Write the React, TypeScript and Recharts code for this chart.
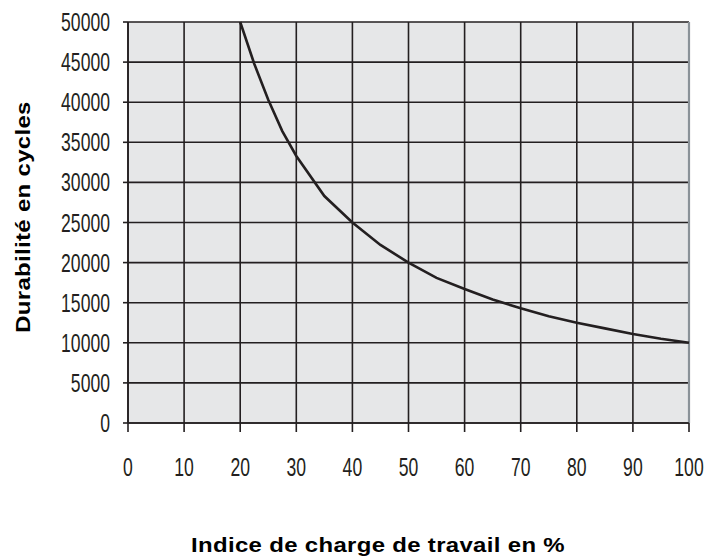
import React from "react";
import {
  CartesianGrid,
  Line,
  LineChart,
  ReferenceLine,
  XAxis,
  YAxis,
} from "recharts";

const loadIndex = [20, 22.5, 25, 27.5, 30, 35, 40, 45, 50, 55, 60, 65, 70, 75, 80, 85, 90, 95, 100];
const cycles = [
  50000, 44800, 40300, 36400, 33300, 28300, 25000, 22200, 20000, 18100, 16700,
  15400, 14300, 13300, 12500, 11800, 11100, 10500, 10000,
];
const xTicks = [0, 10, 20, 30, 40, 50, 60, 70, 80, 90, 100];
const yTicks = [0, 5000, 10000, 15000, 20000, 25000, 30000, 35000, 40000, 45000, 50000];

const xTitle = "Indice de charge de travail en %";
const yTitle = "Durabilité en cycles";

const data = loadIndex.map((x, i) => ({ x, y: cycles[i] }));

const ink = "#231f20";
const font = "'Liberation Sans', Arial, sans-serif";

// condensed look: squeeze a regular face
const XTick = ({ x, y, payload }: any) => (
  <text
    transform={`translate(${x},${y + 42}) scale(0.8,1.2)`}
    textAnchor="middle"
    fill={ink}
    fontSize={22}
    fontFamily={font}
  >
    {payload.value}
  </text>
);

const YTick = ({ x, y, payload }: any) => (
  <text
    transform={`translate(${x - 11},${y + 9}) scale(0.8,1.2)`}
    textAnchor="end"
    fill={ink}
    fontSize={22}
    fontFamily={font}
  >
    {payload.value}
  </text>
);

const titleStyle = {
  fill: "#000",
  fontSize: 21,
  fontWeight: "bold" as const,
  fontFamily: font,
  letterSpacing: 0.3,
};

// titles are a touch wider than Arial bold, so stretch them
const XTitle = () => (
  <text
    transform="translate(378,552) scale(1.14,1)"
    textAnchor="middle"
    {...titleStyle}
  >
    {xTitle}
  </text>
);

const YTitle = () => (
  <text
    transform="translate(30,217) rotate(-90) scale(1.14,1)"
    textAnchor="middle"
    {...titleStyle}
  >
    {yTitle}
  </text>
);

export default function App() {
  return (
    <div style={{ position: "absolute", left: 0, top: 0, width: 705, height: 559, background: "#fff" }}>
      <LineChart
        width={705}
        height={559}
        data={data}
        margin={{ top: 22, right: 16, bottom: 0, left: 0 }}
      >
        <CartesianGrid
          stroke={ink}
          strokeWidth={1.6}
          fill="#e6e7e8"
          fillOpacity={1}
        />
        <XAxis
          dataKey="x"
          type="number"
          domain={[0, 100]}
          ticks={xTicks}
          height={136}
          stroke={ink}
          strokeWidth={1.6}
          tickSize={9}
          tick={<XTick />}
          label={<XTitle />}
        />
        <YAxis
          type="number"
          domain={[0, 50000]}
          ticks={yTicks}
          width={128}
          stroke={ink}
          strokeWidth={1.6}
          tickSize={5}
          tick={<YTick />}
          label={<YTitle />}
        />
        <ReferenceLine x={100} stroke="#8a9298" strokeWidth={2.2} />
        <Line
          type="linear"
          dataKey="y"
          stroke={ink}
          strokeWidth={2.6}
          dot={false}
          isAnimationActive={false}
        />
      </LineChart>
    </div>
  );
}
